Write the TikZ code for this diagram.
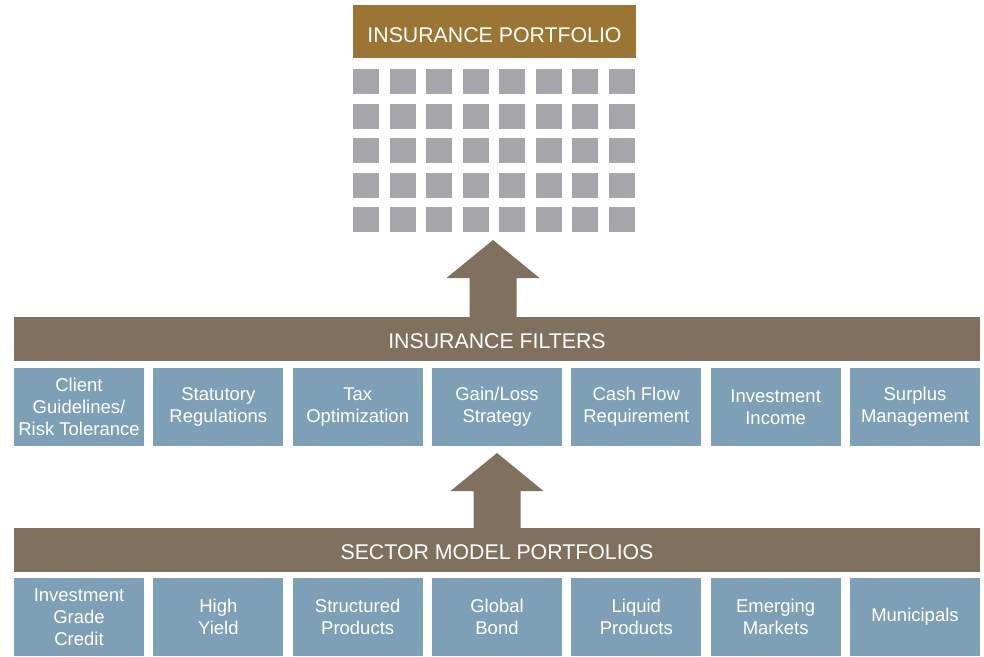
\documentclass[tikz,border=0pt]{standalone}
\usepackage{fontspec}
\setmainfont{Liberation Sans}
\usetikzlibrary{calc}
\definecolor{gold}{RGB}{154,117,52}
\definecolor{umber}{RGB}{128,112,94}
\definecolor{steel}{RGB}{125,160,182}
\definecolor{tile}{RGB}{166,166,170}
\tikzset{
  title/.style={rectangle, fill=gold, text=white, inner sep=0pt,
                minimum width=283pt, minimum height=53pt,
                font=\fontsize{21.3}{25}\selectfont},
  banner/.style={rectangle, fill=umber, text=white, inner sep=0pt,
                 minimum width=966pt, minimum height=44pt,
                 font=\fontsize{21.3}{25}\selectfont},
  item/.style={rectangle, fill=steel, text=white, inner sep=0pt,
               minimum width=130pt, minimum height=78pt, align=center,
               font=\fontsize{18.5}{22}\selectfont},
  cell/.style={rectangle, fill=tile, inner sep=0pt,
               minimum width=26pt, minimum height=25pt},
}
% text moved down inside its box
\newcommand\lowered[2]{\raisebox{-#1}[\height][\depth]{#2}}
% block arrow from #1 (base) up to #2 (tip)
\newcommand\blockarrow[2]{%
  \fill[umber] ($(#1)+(-23.5,0)$) -- ($(#2)+(-23.5,38)$) -- ($(#2)+(-46.5,38)$)
    -- (#2) -- ($(#2)+(46.5,38)$) -- ($(#2)+(23.5,38)$) -- ($(#1)+(23.5,0)$) -- cycle;}

\begin{document}
\begin{tikzpicture}[x=1pt, y=-1pt]
    \useasboundingbox (0,0) rectangle (984,656);

    % portfolio and its holdings
    \node[title] (portfolio) at (494.5,31.5) {\lowered{4pt}{INSURANCE PORTFOLIO}};
    \foreach \r in {0,...,4}{
      \foreach \c in {0,...,7}{
        \node[cell] (cell-\r-\c) at (366+\c*36.57, 81.5+\r*34.6) {};
      }
    }

    % filters
    \node[banner] (filters) at (497,339) {\lowered{2pt}{INSURANCE FILTERS}};
    \foreach \i/\txt in {
      0/{Client\\Guidelines/\\Risk Tolerance},
      1/{Statutory\\Regulations},
      2/{Tax\\Optimization},
      3/{Gain/Loss\\Strategy},
      4/{Cash Flow\\Requirement},
      5/{Investment\\Income},
      6/{Surplus\\Management}}{
      \node[item] (filter-\i) at (79+\i*139.33, 407) {\txt};
    }

    % sector models
    \node[banner] (sectors) at (497,550) {\lowered{2pt}{SECTOR MODEL PORTFOLIOS}};
    \foreach \i/\txt in {
      0/{Investment\\Grade\\Credit},
      1/{High\\Yield},
      2/{Structured\\Products},
      3/{Global\\Bond},
      4/{Liquid\\Products},
      5/{Emerging\\Markets},
      6/{Municipals}}{
      \node[item] (sector-\i) at (79+\i*139.33, 617) {\txt};
    }

    % arrows
    \coordinate (tipA) at (493,240);
    \coordinate (tipB) at (497,453);
    \coordinate (baseA) at (filters.north -| tipA);
    \coordinate (baseB) at (sectors.north -| tipB);
    \blockarrow{baseA}{tipA}
    \blockarrow{baseB}{tipB}
  \end{tikzpicture}
\end{document}
